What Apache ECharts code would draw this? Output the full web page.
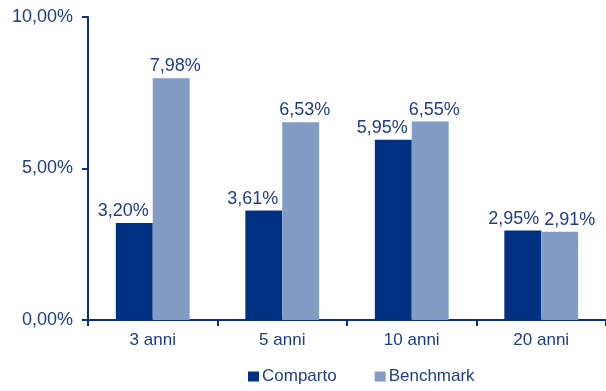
<!DOCTYPE html>
<html>
<head>
<meta charset="utf-8">
<script src="https://cdn.jsdelivr.net/npm/echarts@6/dist/echarts.min.js"></script>
<style>
  html, body { margin: 0; padding: 0; background: #fff; }
  #chart { width: 606px; height: 391px; }
</style>
</head>
<body>
<div id="chart"></div>
<script>
  var categories = ['3 anni', '5 anni', '10 anni', '20 anni'];
  var comparto = [3.20, 3.61, 5.95, 2.95];
  var benchmark = [7.98, 6.53, 6.55, 2.91];
  var yTicks = [0, 5, 10];

  var textColor = '#1f3c88';
  var axisColor = '#0a2f7e';
  var fontFamily = 'Liberation Sans, Arial, sans-serif';

  function pct(v) {
    return v.toFixed(2).replace('.', ',') + '%';
  }

  // etichette spostate come nell'originale (a sinistra / a destra della barra)
  function withLabelOffset(values, dx, lastDx) {
    return values.map(function (v, i) {
      return { value: v, label: { offset: [i === values.length - 1 ? lastDx : dx, 0] } };
    });
  }

  var myChart = echarts.init(document.getElementById('chart'));
  var option = {
    animation: false,
    textStyle: { fontFamily: fontFamily },
    grid: { left: 88, top: 17, right: -2, bottom: 71, containLabel: false },
    legend: {
      bottom: 1,
      left: 243,
      itemWidth: 11,
      itemHeight: 10,
      itemGap: 38,
      icon: 'rect',
      textStyle: { color: textColor, fontSize: 17, fontFamily: fontFamily, padding: [0, 0, 0, -2] },
      data: ['Comparto', 'Benchmark']
    },
    xAxis: {
      type: 'category',
      data: categories,
      axisLine: { lineStyle: { color: axisColor, width: 2 } },
      axisTick: { show: true, length: 6, alignWithLabel: false, lineStyle: { color: axisColor, width: 2 } },
      axisLabel: { color: textColor, fontSize: 17, margin: 12 }
    },
    yAxis: {
      type: 'value',
      min: 0,
      max: 10,
      interval: 5,
      axisLine: { show: true, lineStyle: { color: axisColor, width: 2 } },
      axisTick: { show: true, length: 6, lineStyle: { color: axisColor, width: 2 } },
      splitLine: { show: false },
      axisLabel: {
        color: textColor,
        fontSize: 18,
        margin: 15,
        formatter: function (v) { return yTicks.indexOf(v) >= 0 ? pct(v) : ''; }
      }
    },
    series: [{
      name: 'Comparto',
      type: 'bar',
      data: withLabelOffset(comparto, -11, -9),
      barGap: '0%',
      barCategoryGap: '43%',
      itemStyle: { color: '#003082' },
      label: {
        show: true,
        position: 'top',
        color: textColor,
        fontSize: 18,
        distance: 3,
        formatter: function (p) { return pct(p.value); }
      }
    }, {
      name: 'Benchmark',
      type: 'bar',
      data: withLabelOffset(benchmark, 4, 10),
      itemStyle: { color: '#829cc4' },
      label: {
        show: true,
        position: 'top',
        color: textColor,
        fontSize: 18,
        distance: 3,
        formatter: function (p) { return pct(p.value); }
      }
    }]
  };
  myChart.setOption(option);
</script>
</body>
</html>
